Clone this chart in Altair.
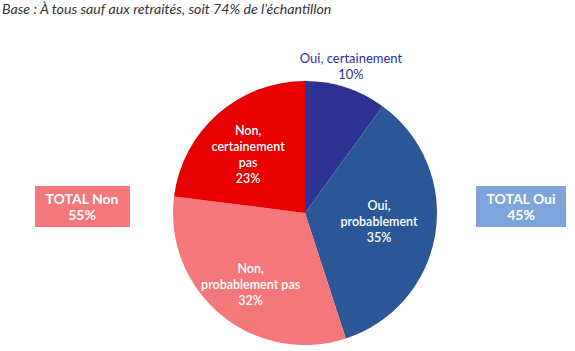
import altair as alt
import pandas as pd

categories = ["Oui, certainement", "Oui, probablement", "Non, probablement pas", "Non, certainement pas"]
values = [10, 35, 32, 23]
labels = ["Oui, certainement\n10%", "Oui,\nprobablement\n35%", "Non,\nprobablement pas\n32%", "Non,\ncertainement\npas\n23%"]
colors = ["#2E3192", "#2B5797", "#F4777B", "#E60000"]
total_labels = ["TOTAL Non\n55%", "TOTAL Oui\n45%"]
title_text = "Base : À tous sauf aux retraités, soit 74% de l’échantillon"

df = pd.DataFrame({"cat": categories, "value": values, "label": labels, "idx": list(range(len(categories)))})

W, H = 575, 351
CX, CY, R = 305, 213, 132
FONT = "Lato"

base = alt.Chart(df)

pie = base.mark_arc(radius=R).encode(
    theta=alt.Theta("value:Q", stack=True),
    order=alt.Order("idx:Q"),
    color=alt.Color("cat:N", scale=alt.Scale(domain=categories, range=colors), legend=None),
    x=alt.value(CX),
    y=alt.value(CY),
)

label_radius = [152, 78, 90, 86]
label_dy = [-9, -19, -13, -17]
label_dx = [-1, -3, 3, 0]
label_size = [13, 12.5, 12.5, 12.5]
label_weight = ["normal", 600, 600, 600]
label_color = ["#2E3192", "white", "white", "white"]
text_layers = []
for cat, rr, ddy, ddx, fs, fw, col in zip(categories, label_radius, label_dy, label_dx, label_size, label_weight, label_color):
    t = base.mark_text(radius=rr, dy=ddy, dx=ddx, lineBreak="\n", font=FONT, fontSize=fs, fontWeight=fw,
                       color=col, align="center", baseline="middle", lineHeight=16).encode(
        theta=alt.Theta("value:Q", stack=True),
        order=alt.Order("idx:Q"),
        text=alt.condition(alt.datum.cat == cat, "label:N", alt.value("")),
        x=alt.value(CX),
        y=alt.value(CY),
    )
    text_layers.append(t)

tot = pd.DataFrame({"label": total_labels})
box_non = alt.Chart(tot.iloc[[0]]).mark_rect(color="#F4777B").encode(
    x=alt.value(35), x2=alt.value(130), y=alt.value(186), y2=alt.value(227))
box_oui = alt.Chart(tot.iloc[[1]]).mark_rect(color="#7FA3DB").encode(
    x=alt.value(476), x2=alt.value(566), y=alt.value(186), y2=alt.value(227))
txt_non = alt.Chart(tot.iloc[[0]]).mark_text(lineBreak="\n", font=FONT, fontSize=14, fontWeight="bold",
                                             color="white", lineHeight=16, baseline="middle").encode(
    text="label:N", x=alt.value(82), y=alt.value(200))
txt_oui = alt.Chart(tot.iloc[[1]]).mark_text(lineBreak="\n", font=FONT, fontSize=14, fontWeight="bold",
                                             color="white", lineHeight=16, baseline="middle").encode(
    text="label:N", x=alt.value(521), y=alt.value(200))

title = alt.Chart(pd.DataFrame({"t": [title_text]})).mark_text(
    font=FONT, fontSize=14.2, fontStyle="italic", color="#333333", align="left", baseline="middle").encode(
    text="t:N", x=alt.value(2), y=alt.value(10))

chart = alt.layer(pie, *text_layers, box_non, box_oui, txt_non, txt_oui, title).properties(
    width=W, height=H, padding=0, autosize=alt.AutoSizeParams(type="none")
).configure_view(stroke=None)

chart.save("out.html", embed_options={"renderer": "svg", "actions": False})
